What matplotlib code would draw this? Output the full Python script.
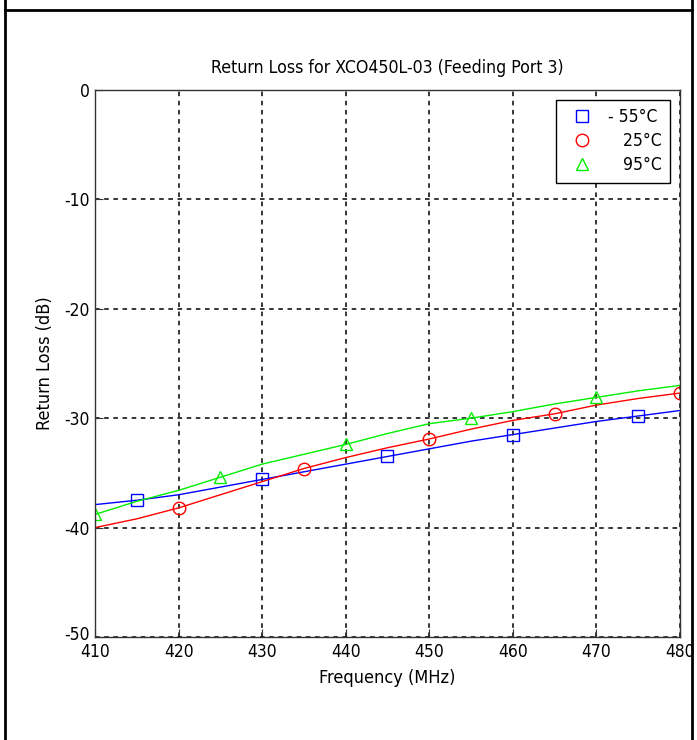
import matplotlib
matplotlib.use("Agg")
import matplotlib.pyplot as plt
import matplotlib.transforms as mtransforms
from matplotlib.lines import Line2D

plt.rcParams['font.family'] = ['DejaVu Sans']
plt.rcParams['font.stretch'] = 'condensed'
plt.rcParams['axes.unicode_minus'] = False

# frequency points (MHz) and return loss curves (dB)
freq = [410, 415, 420, 425, 430, 435, 440, 445, 450, 455, 460, 465, 470, 475, 480]
rl_m55 = [-37.9, -37.5, -37.0, -36.3, -35.6, -34.9, -34.2, -33.5, -32.8, -32.1, -31.5, -30.9, -30.3, -29.8, -29.3]
rl_25 = [-40.0, -39.2, -38.2, -37.0, -35.8, -34.6, -33.6, -32.7, -31.9, -31.0, -30.2, -29.6, -28.8, -28.2, -27.7]
rl_95 = [-38.8, -37.6, -36.6, -35.4, -34.2, -33.3, -32.4, -31.4, -30.5, -30.0, -29.4, -28.7, -28.1, -27.5, -27.0]
labels = ['- 55°C', '   25°C', '   95°C']
xticks = [410, 420, 430, 440, 450, 460, 470, 480]
yticks = [0, -10, -20, -30, -40, -50]

fig = plt.figure(figsize=(6.97, 7.40), dpi=100)
ax = fig.add_axes([0.1363, 0.1392, 0.8393, 0.7392])

ax.plot(freq, rl_m55, color='#0000ff', lw=1, marker='s', markevery=slice(1, None, 3),
        ms=9, mfc='none', mew=1)
ax.plot(freq, rl_25, color='#ff0000', lw=1, marker='o', markevery=slice(2, None, 3),
        ms=9, mfc='none', mew=1)
ax.plot(freq, rl_95, color='#00ee00', lw=1, marker='^', markevery=slice(0, None, 3),
        ms=9, mfc='none', mew=1)

ax.set_xlim(410, 480)
ax.set_ylim(-50, 0)
ax.set_xticks(xticks)
ax.set_yticks(yticks)
ax.tick_params(direction='in', length=6, labelsize=12.5, color='#333333', pad=4)
ax.grid(True, color='black', linestyle=(0, (3, 3)), linewidth=1.1)
for s in ax.spines.values():
    s.set_color('#333333')
    s.set_linewidth(1)

# the bottom y label sits just above the first x label, as in the source
lbl = ax.get_yticklabels()[-1]
lbl.set_transform(lbl.get_transform() + mtransforms.ScaledTranslation(0, 4 / 100, fig.dpi_scale_trans))

ax.set_title('Return Loss for XCO450L-03 (Feeding Port 3)', fontsize=12.7, pad=12)
ax.set_xlabel('Frequency (MHz)', fontsize=13, labelpad=6)
ax.set_ylabel('Return Loss (dB)', fontsize=13, labelpad=7)

handles = [Line2D([], [], ls='none', marker='s', ms=9, mfc='none', mec='#0000ff'),
           Line2D([], [], ls='none', marker='o', ms=9, mfc='none', mec='#ff0000'),
           Line2D([], [], ls='none', marker='^', ms=9, mfc='none', mec='#00ee00')]
leg = ax.legend(handles, labels, loc='upper right', fontsize=12.5, fancybox=False,
                edgecolor='black', framealpha=1, borderaxespad=0.55,
                handletextpad=0.5, labelspacing=0.35, borderpad=0.5)
leg.get_frame().set_linewidth(1)

# table-cell style frame around the figure
fig.add_artist(Line2D([5 / 697, 692 / 697], [1 - 10 / 740, 1 - 10 / 740], color='black', lw=2))
fig.add_artist(Line2D([5 / 697, 5 / 697], [0, 1], color='black', lw=2))
fig.add_artist(Line2D([692 / 697, 692 / 697], [0, 1], color='black', lw=2))

fig.savefig('out.png', dpi=100)
